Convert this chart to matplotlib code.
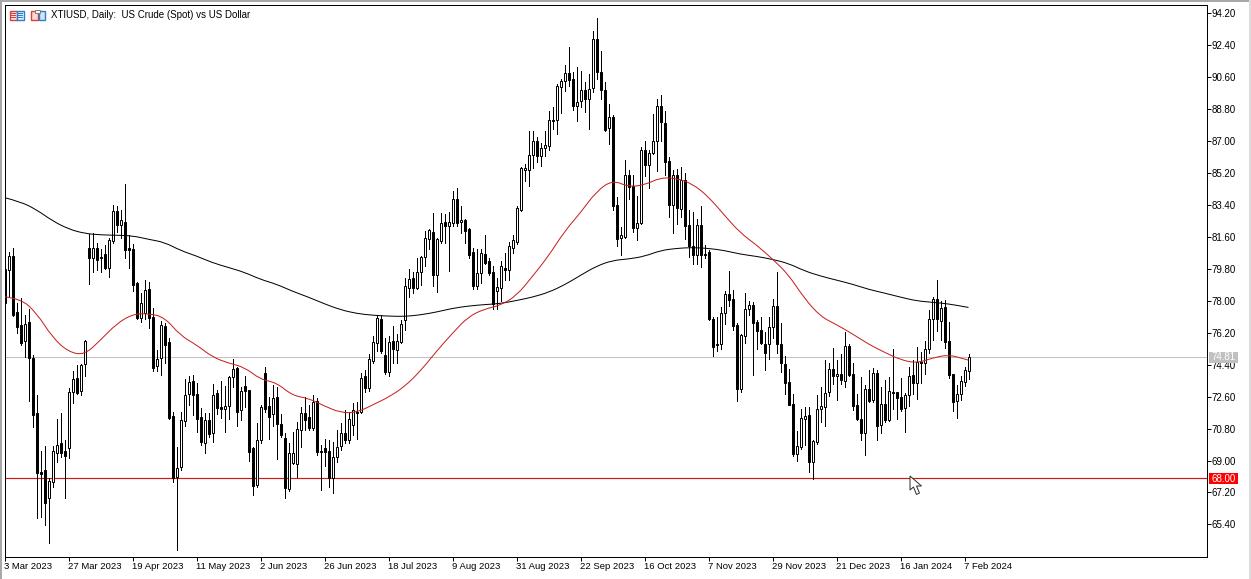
#!/usr/bin/env python3
"""XTIUSD daily candles with two moving averages, MetaTrader style."""
import matplotlib
matplotlib.use('Agg')
import matplotlib.pyplot as plt
from matplotlib.patches import PathPatch, Polygon, Rectangle
from matplotlib.path import Path
import numpy as np

opens = [
    79.8, 79.75, 80.54, 77.36, 76.65, 75.71, 76.8, 74.77, 71.67, 68.38,
    68.47, 66.87, 67.77, 69.45, 69.97, 69.54, 69.73, 72.89, 73.64, 72.92,
    74.43, 81.0, 80.44, 80.97, 80.46, 80.63, 79.88, 81.35, 83.08, 82.29,
    82.44, 80.97, 80.93, 79.0, 77.06, 77.3, 78.68, 77.08, 74.35, 74.77,
    76.6, 75.67, 71.52, 68.09, 68.66, 71.25, 72.76, 73.49, 72.76, 71.44,
    70.01, 71.29, 70.58, 72.83, 72.0, 71.89, 72.08, 73.73, 74.2, 71.85,
    73.2, 72.98, 69.69, 67.62, 70.16, 73.96, 72.1, 71.63, 72.6, 71.06,
    70.26, 67.4, 68.85, 68.79, 70.73, 71.7, 71.44, 70.86, 72.38, 69.56,
    69.73, 69.54, 68.0, 69.19, 69.82, 70.57, 70.15, 71.03, 71.72, 71.76,
    73.74, 73.11, 74.62, 75.62, 76.98, 74.95, 73.99, 75.72, 75.24, 75.66,
    76.91, 78.75, 79.27, 78.71, 79.63, 80.46, 81.51, 81.88, 79.48, 81.36,
    82.45, 82.2, 82.4, 83.72, 82.45, 82.57, 82.03, 80.78, 78.86, 79.59,
    80.67, 80.25, 79.63, 78.54, 78.73, 79.88, 79.75, 81.0, 81.31, 83.15,
    85.39, 85.39, 86.25, 87.04, 86.16, 86.63, 86.72, 88.22, 88.2, 90.08,
    90.37, 90.87, 90.52, 88.98, 89.26, 89.9, 89.39, 89.99, 92.77, 90.93,
    89.86, 87.75, 88.39, 83.43, 81.53, 81.59, 85.07, 84.5, 82.09, 82.4,
    86.48, 85.67, 86.32, 87.04, 89.01, 88.02, 85.9, 83.39, 85.09, 83.17,
    84.8, 82.27, 81.08, 80.61, 82.27, 80.63, 80.76, 77.0, 75.59, 75.56,
    77.29, 78.41, 78.09, 76.63, 73.02, 76.03, 77.57, 77.79, 76.82, 76.35,
    75.59, 75.59, 76.53, 77.7, 75.59, 74.43, 73.4, 72.17, 69.39, 69.77,
    71.36, 71.55, 68.92, 70.05, 71.93, 72.02, 72.87, 74.15, 73.77, 73.9,
    73.49, 75.44, 73.86, 72.12, 71.36, 70.56, 73.06, 72.4, 73.96, 70.99,
    72.21, 71.27, 72.85, 72.85, 72.59, 71.98, 72.72, 73.81, 73.39, 74.56,
    74.47, 75.26, 77.0, 78.13, 76.85, 77.66, 75.73, 73.86, 72.34, 72.77,
    73.43, 74.05,
]
highs = [
    80.0, 80.74, 80.97, 77.87, 78.15, 77.21, 77.53, 74.95, 72.7, 69.54,
    69.82, 68.04, 69.82, 71.33, 71.67, 70.16, 73.08, 74.02, 74.39, 74.43,
    75.8, 81.76, 81.82, 81.25, 80.93, 81.16, 81.53, 83.38, 83.32, 83.13,
    84.58, 81.72, 81.2, 79.05, 78.43, 79.18, 79.09, 77.58, 75.24, 76.87,
    76.74, 75.9, 71.76, 69.79, 71.76, 73.58, 73.77, 73.83, 73.36, 71.95,
    71.67, 71.7, 73.32, 72.98, 73.5, 73.2, 73.77, 74.71, 74.3, 73.17,
    73.77, 73.0, 69.79, 71.1, 72.14, 74.3, 72.6, 73.26, 73.17, 71.63,
    70.54, 69.97, 70.63, 71.2, 72.04, 72.6, 72.14, 72.7, 72.5, 69.9,
    70.2, 70.16, 70.07, 70.71, 71.13, 71.86, 71.76, 72.24, 72.28, 73.91,
    74.1, 74.99, 76.0, 77.19, 77.19, 75.93, 76.0, 76.56, 76.14, 76.91,
    79.27, 79.8, 79.63, 80.42, 80.53, 81.92, 82.05, 82.93, 81.57, 82.93,
    82.9, 83.03, 84.18, 84.39, 83.34, 82.61, 82.09, 81.0, 80.94, 80.94,
    81.74, 80.42, 79.96, 79.27, 80.27, 80.7, 81.3, 81.74, 83.32, 85.54,
    85.69, 87.57, 87.55, 87.23, 86.89, 87.6, 88.73, 88.92, 90.2, 90.52,
    91.27, 92.3, 90.9, 91.21, 90.95, 90.33, 90.8, 93.24, 93.96, 92.11,
    90.33, 89.11, 88.49, 83.84, 82.19, 85.95, 85.39, 85.07, 83.94, 86.66,
    87.0, 86.48, 88.51, 89.39, 89.63, 88.73, 86.1, 85.37, 85.41, 85.52,
    85.22, 83.11, 83.02, 82.59, 83.34, 81.14, 80.86, 77.1, 77.1, 77.66,
    78.56, 79.67, 78.6, 76.78, 76.16, 78.47, 77.98, 77.94, 76.91, 77.1,
    76.25, 77.1, 78.13, 79.6, 76.76, 74.88, 74.18, 72.77, 70.67, 71.93,
    72.02, 72.02, 70.14, 72.72, 73.15, 74.65, 74.47, 75.37, 74.65, 75.03,
    76.25, 75.59, 74.47, 72.74, 73.71, 73.24, 74.13, 74.22, 74.09, 73.15,
    73.53, 73.71, 75.26, 72.89, 73.68, 72.81, 74.28, 74.65, 75.41, 75.12,
    75.74, 77.51, 78.23, 79.2, 78.0, 78.04, 76.82, 73.9, 73.28, 73.77,
    74.28, 75.03,
]
lows = [
    77.5, 78.2, 77.12, 76.18, 75.52, 74.86, 72.36, 70.91, 65.78, 65.84,
    65.37, 64.37, 67.53, 68.9, 69.22, 66.87, 69.13, 72.23, 72.74, 72.7,
    73.79, 78.94, 79.65, 79.75, 79.65, 79.8, 79.37, 81.25, 81.91, 81.53,
    80.44, 79.88, 78.53, 76.98, 76.83, 76.98, 76.46, 74.02, 74.02, 73.83,
    74.49, 71.33, 67.8, 63.93, 68.47, 70.95, 72.14, 71.57, 70.63, 69.88,
    69.41, 70.35, 70.07, 71.63, 71.38, 70.63, 71.33, 73.13, 70.95, 71.29,
    72.04, 68.97, 67.06, 67.53, 69.97, 71.76, 70.2, 70.95, 69.07, 70.35,
    66.87, 67.3, 68.8, 68.09, 69.79, 70.73, 70.73, 70.73, 69.3, 67.34,
    68.7, 67.53, 67.15, 68.94, 69.6, 69.98, 69.98, 70.44, 70.23, 71.7,
    72.86, 72.9, 74.47, 75.2, 75.04, 73.85, 73.78, 74.47, 74.47, 75.62,
    76.35, 78.23, 78.44, 78.65, 78.92, 79.96, 80.9, 78.86, 78.5, 81.26,
    81.26, 79.69, 82.2, 82.2, 81.84, 81.26, 80.42, 78.65, 78.65, 79.0,
    80.1, 79.48, 77.54, 77.54, 77.98, 79.15, 79.15, 80.69, 81.21, 83.09,
    84.78, 84.5, 85.5, 85.82, 85.59, 86.16, 86.51, 87.7, 87.38, 88.58,
    89.82, 90.14, 88.77, 88.13, 88.92, 88.64, 87.7, 89.76, 90.48, 89.39,
    87.6, 86.85, 83.13, 81.12, 80.59, 81.55, 83.75, 81.87, 81.44, 82.34,
    85.03, 84.35, 86.29, 85.31, 87.04, 85.07, 82.74, 81.83, 82.36, 82.74,
    81.46, 80.48, 80.07, 80.1, 79.92, 80.39, 76.93, 74.9, 75.18, 75.31,
    76.72, 77.72, 76.38, 72.36, 72.87, 75.63, 77.19, 73.81, 75.27, 75.59,
    74.09, 74.71, 75.88, 75.07, 74.0, 72.74, 72.12, 69.24, 68.98, 69.67,
    69.86, 68.36, 67.94, 69.95, 71.18, 70.93, 72.62, 73.34, 72.44, 73.34,
    73.15, 73.75, 71.83, 71.27, 70.14, 69.33, 72.3, 72.3, 70.18, 70.56,
    71.18, 71.23, 71.93, 71.33, 71.8, 70.61, 72.06, 72.77, 72.49, 73.38,
    73.86, 75.07, 75.78, 76.29, 75.82, 75.37, 73.68, 71.78, 71.4, 72.4,
    73.21, 73.58,
]
closes = [
    77.9, 80.54, 77.21, 76.55, 75.61, 76.7, 74.77, 71.57, 68.32, 68.26,
    66.59, 67.85, 69.54, 69.88, 69.45, 69.28, 72.85, 73.58, 72.79, 74.39,
    75.74, 80.41, 80.97, 80.31, 80.41, 79.88, 81.44, 83.08, 82.25, 82.57,
    80.88, 80.84, 78.9, 77.06, 77.87, 78.62, 77.02, 74.24, 74.73, 76.65,
    75.52, 71.38, 68.0, 68.56, 71.29, 72.7, 73.45, 72.7, 71.35, 70.07,
    71.29, 70.48, 72.7, 71.98, 71.9, 72.08, 73.73, 74.15, 71.76, 72.94,
    72.94, 69.5, 67.59, 70.16, 72.0, 71.91, 71.48, 72.51, 71.06, 70.44,
    67.44, 69.41, 69.41, 70.76, 71.7, 71.29, 70.86, 72.29, 69.5, 69.5,
    69.5, 68.0, 69.18, 69.77, 70.57, 70.13, 71.34, 71.86, 71.68, 73.64,
    73.11, 74.74, 75.66, 77.04, 75.2, 73.99, 75.66, 75.31, 75.72, 76.7,
    78.86, 79.21, 78.75, 79.63, 80.46, 81.57, 81.97, 79.48, 81.47, 82.4,
    82.2, 82.47, 83.72, 82.4, 82.57, 81.93, 80.59, 78.86, 79.59, 80.71,
    80.13, 79.55, 77.81, 78.79, 79.95, 79.75, 81.1, 81.44, 83.22, 85.5,
    85.5, 86.25, 87.04, 86.16, 86.63, 86.76, 88.17, 88.15, 90.14, 90.42,
    90.87, 90.46, 88.98, 89.22, 89.9, 89.39, 89.92, 92.77, 90.89, 89.86,
    87.66, 88.39, 83.37, 81.49, 81.72, 85.07, 84.41, 82.11, 82.4, 86.48,
    85.67, 86.34, 87.04, 89.01, 88.07, 85.82, 83.39, 85.09, 83.24, 84.84,
    82.21, 81.08, 80.61, 82.27, 80.58, 80.58, 76.97, 75.41, 75.54, 77.29,
    78.41, 78.04, 76.57, 73.02, 76.06, 77.57, 77.79, 76.76, 76.31, 75.65,
    75.07, 76.53, 77.7, 75.59, 74.47, 73.38, 72.12, 69.35, 69.8, 71.42,
    71.52, 68.92, 70.09, 71.93, 72.08, 72.83, 74.18, 73.75, 73.9, 73.53,
    75.44, 73.81, 72.06, 71.36, 70.56, 73.06, 72.36, 73.96, 70.95, 72.21,
    71.27, 72.91, 72.79, 72.53, 71.93, 72.72, 73.77, 73.38, 74.56, 74.47,
    75.26, 77.0, 78.08, 77.0, 77.62, 75.69, 73.81, 72.3, 72.77, 73.47,
    74.09, 74.81,
]

# moving averages, read every 4th bar and at the last bar
ma_slow = [
    83.82, 83.59, 83.14, 82.51, 82.05, 81.80, 81.72, 81.70, 81.67, 81.47,
    81.30, 80.84, 80.53, 80.15, 79.88, 79.61, 79.21, 78.94, 78.54, 78.21,
    77.83, 77.50, 77.29, 77.19, 77.14, 77.12, 77.21, 77.37, 77.58, 77.71,
    77.79, 77.85, 78.02, 78.21, 78.48, 78.90, 79.44, 79.96, 80.28, 80.36,
    80.51, 80.84, 80.96, 81.01, 80.96, 80.84, 80.63, 80.51, 80.34, 80.11,
    79.69, 79.40, 79.17, 78.94, 78.65, 78.44, 78.21, 78.00, 77.92, 77.83,
    77.67, 77.63,
]
ma_fast = [
    78.23, 78.13, 77.33, 75.93, 75.12, 74.95, 75.79, 76.71, 77.25, 77.29,
    77.08, 76.04, 75.52, 74.83, 74.49, 74.26, 73.57, 73.39, 72.66, 72.51,
    72.07, 71.70, 71.70, 72.13, 72.57, 73.16, 74.05, 75.16, 76.18, 77.12,
    77.54, 77.75, 78.29, 79.38, 80.53, 81.92, 82.97, 84.18, 84.81, 84.43,
    84.53, 84.95, 84.91, 84.60, 83.87, 82.82, 81.82, 81.15, 80.36, 79.48,
    78.13, 77.12, 76.66, 76.14, 75.56, 75.10, 74.68, 74.49, 74.78, 74.97,
    74.72, 74.66,
]

date_labels = ['3 Mar 2023', '27 Mar 2023', '19 Apr 2023', '11 May 2023', '2 Jun 2023',
               '26 Jun 2023', '18 Jul 2023', '9 Aug 2023', '31 Aug 2023', '22 Sep 2023',
               '16 Oct 2023', '7 Nov 2023', '29 Nov 2023', '21 Dec 2023', '16 Jan 2024',
               '7 Feb 2024']
price_ticks = [94.2, 92.4, 90.6, 88.8, 87.0, 85.2, 83.4, 81.6, 79.8, 78.0,
               76.2, 74.4, 72.6, 70.8, 69.0, 67.2, 65.4]
bid_price = 74.81
level_price = 68.0

W, H = 1251, 579
plt.rcParams['font.family'] = ['Liberation Sans', 'DejaVu Sans']
fig = plt.figure(figsize=(W / 100, H / 100), dpi=100, facecolor='white')
ax = fig.add_axes([4.5 / W, 22.5 / H, 1202 / W, 552 / H])
ax.set_xlim(0, 300.5)
ax.set_ylim(63.59, 94.707)

o, h, l, c = map(np.array, (opens, highs, lows, closes))
x = np.arange(len(o))

ax.axhline(bid_price, color='#c0c0c0', lw=0.72, zorder=1)
ax.axhline(level_price, color='#d01818', lw=0.85, zorder=1)

ax.vlines(x, l, h, color='black', lw=0.72, zorder=2, antialiased=False)
ax.bar(x, np.abs(c - o), bottom=np.minimum(o, c), width=0.5,
       color=['white' if up else 'black' for up in c > o],
       edgecolor='black', linewidth=0.72, zorder=3)


def smooth_line(xs, ys, color):
    # quadratic segments through the midpoints, so the readings do not show as corners
    pts = np.column_stack([xs, ys])
    verts, codes = [pts[0]], [Path.MOVETO]
    for i in range(1, len(pts) - 1):
        verts += [pts[i], (pts[i] + pts[i + 1]) / 2]
        codes += [Path.CURVE3, Path.CURVE3]
    verts.append(pts[-1])
    codes.append(Path.LINETO)
    ax.add_patch(PathPatch(Path(verts, codes), fill=False, edgecolor=color, lw=0.72, zorder=4))


ma_x = list(range(0, len(o) - 1, 4)) + [len(o) - 1]
smooth_line(ma_x, ma_slow, 'black')
smooth_line(ma_x, ma_fast, '#c81e1e')

ax.yaxis.tick_right()
ax.set_yticks(price_ticks)
ax.set_yticklabels([f'{p:.2f}' for p in price_ticks])
ax.set_xticks(np.arange(len(date_labels)) * 16)
ax.set_xticklabels(date_labels, ha='left')
ax.tick_params(axis='x', length=3, width=0.72, labelsize=6.8, pad=1)
ax.tick_params(axis='y', length=3, width=0.72, labelsize=7.0, pad=0.6)
for spine in ax.spines.values():
    spine.set_linewidth(0.72)


def px_rect(x0, y0, x1, y1, color, edge='none', zorder=1, lw=0.72):
    fig.add_artist(Rectangle((x0 / W, 1 - y1 / H), (x1 - x0) / W, (y1 - y0) / H,
                             transform=fig.transFigure, facecolor=color,
                             edgecolor=edge, linewidth=lw, zorder=zorder))


# window frame
px_rect(0, 0, W, 2, '#a8a8a8')
px_rect(0, 0, 2, H, '#a8a8a8')
px_rect(W - 2, 0, W, H, '#dcdcdc')

# price boxes on the right axis
for value, fill, row in [(bid_price, '#c0c0c0', 357.5), (level_price, '#ff0000', 478.5)]:
    px_rect(1209, row - 5.5, 1238, row + 5.5, fill, zorder=2)
    fig.text(1223.5 / W, 1 - row / H, f'{value:.2f}', color='white', fontsize=7.0,
             ha='center', va='center', zorder=3)

# toolbar icons and title
px_rect(9.5, 10.5, 16.5, 19.5, '#fbe4e4', edge='#d84040', lw=1.0)
px_rect(16.5, 10.5, 23.5, 19.5, '#e2effa', edge='#2f7fc8', lw=1.0)
for row in (12.8, 15.0, 17.2):
    px_rect(10, row, 16, row + 1, '#d84040')
    px_rect(17, row, 23, row + 1, '#2f7fc8')
px_rect(30.5, 10.5, 37.5, 19.5, '#fbd8d0', edge='#d84040', lw=1.0)
px_rect(38.5, 10.5, 44.5, 19.5, '#cfe6f8', edge='#2f7fc8', lw=1.0)
px_rect(34.5, 9.5, 40, 13, '#f4f4f4', edge='#808080')
fig.text(50.5 / W, 1 - 15.5 / H, 'XTIUSD, Daily:  US Crude (Spot) vs US Dollar',
         fontsize=7.0, color='black', ha='left', va='center')

# mouse pointer left in the screenshot
pointer = [(910, 476), (910, 490), (913.5, 487), (916.5, 494.5),
           (919.5, 493), (916.5, 486), (921.5, 486)]
fig.add_artist(Polygon([(px / W, 1 - py / H) for px, py in pointer],
                       transform=fig.transFigure, facecolor='white',
                       edgecolor='#303030', linewidth=0.72, zorder=4))

fig.savefig('out.png', dpi=100)
